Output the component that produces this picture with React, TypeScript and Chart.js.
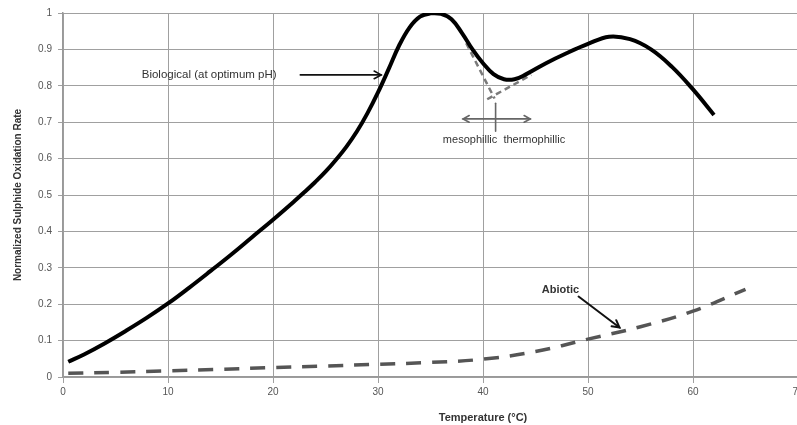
import React, { useEffect, useRef } from "react";
import { Chart, registerables } from "chart.js";

Chart.register(...registerables);

// Biological (at optimum pH)
const bioTemp = [0.5, 2, 4, 6, 8, 10, 12, 14, 16, 18, 20, 22, 23, 24, 25, 26, 27, 28, 29, 30, 31, 32, 33, 34, 35, 36, 37, 38, 39, 40, 41, 42, 43, 44, 46, 48, 50, 52, 54, 56, 58, 60, 62];
const bioRate = [0.042, 0.062, 0.093, 0.127, 0.163, 0.202, 0.245, 0.29, 0.336, 0.384, 0.432, 0.482, 0.508, 0.535, 0.564, 0.597, 0.633, 0.675, 0.725, 0.782, 0.845, 0.91, 0.96, 0.99, 0.999, 0.998, 0.983, 0.945, 0.9, 0.862, 0.832, 0.818, 0.818, 0.83, 0.862, 0.89, 0.915, 0.935, 0.928, 0.9, 0.852, 0.79, 0.72];

// Abiotic
const abioTemp = [0.5, 5, 10, 15, 20, 25, 30, 35, 40, 45, 50, 55, 60, 65];
const abioRate = [0.01, 0.013, 0.017, 0.021, 0.026, 0.03, 0.035, 0.04, 0.049, 0.07, 0.104, 0.138, 0.181, 0.241];

// Extrapolated mesophilic / thermophilic branches
const mesoTemp = [38.4, 41.1];
const mesoRate = [0.917, 0.765];
const thermoTemp = [40.4, 44.6];
const thermoRate = [0.763, 0.83];

// Axis ticks
const xMin = 0;
const xMax = 80;
const xStep = 10;
const yMin = 0;
const yMax = 1;
const yStep = 0.1;

// Annotations (data coordinates)
const bioLabelText = "Biological (at optimum pH)";
const bioLabelPos = [7.5, 0.83];
const bioArrow = [22.6, 0.83, 30.3, 0.83];
const abioLabelText = "Abiotic";
const abioLabelPos = [45.6, 0.239];
const abioArrow = [49.1, 0.221, 53.0, 0.136];
const phaseLabelText = "mesophillic  thermophillic";
const phaseLabelPos = [42.0, 0.651];
const phaseArrow = [38.1, 44.5, 0.709];
const phaseDivider = [41.2, 0.752, 0.675];

const toXY = (xs: number[], ys: number[]) => xs.map((x, i) => ({ x, y: ys[i] }));

function drawArrowHead(ctx: CanvasRenderingContext2D, x1: number, y1: number, x2: number, y2: number, size: number) {
  const a = Math.atan2(y2 - y1, x2 - x1);
  ctx.beginPath();
  ctx.moveTo(x2 - size * Math.cos(a - 0.5), y2 - size * Math.sin(a - 0.5));
  ctx.lineTo(x2, y2);
  ctx.lineTo(x2 - size * Math.cos(a + 0.5), y2 - size * Math.sin(a + 0.5));
  ctx.stroke();
}

const annotationPlugin = {
  id: "annotations",
  afterDatasetsDraw(chart: any) {
    const ctx: CanvasRenderingContext2D = chart.ctx;
    const xs = chart.scales.x;
    const ys = chart.scales.y;
    const px = (v: number) => xs.getPixelForValue(v);
    const py = (v: number) => ys.getPixelForValue(v);
    ctx.save();
    ctx.setLineDash([]);
    ctx.lineCap = "round";

    // Biological label + arrow
    ctx.fillStyle = "#333";
    ctx.font = "11.5px 'Liberation Sans', Arial, sans-serif";
    ctx.textBaseline = "middle";
    ctx.textAlign = "left";
    ctx.fillText(bioLabelText, px(bioLabelPos[0]), py(bioLabelPos[1]));
    ctx.strokeStyle = "#111";
    ctx.lineWidth = 1.6;
    ctx.beginPath();
    ctx.moveTo(px(bioArrow[0]), py(bioArrow[1]));
    ctx.lineTo(px(bioArrow[2]), py(bioArrow[3]));
    ctx.stroke();
    drawArrowHead(ctx, px(bioArrow[0]), py(bioArrow[1]), px(bioArrow[2]), py(bioArrow[3]), 8);

    // Abiotic label + arrow
    ctx.fillStyle = "#333";
    ctx.font = "bold 11px 'Liberation Sans', Arial, sans-serif";
    ctx.fillText(abioLabelText, px(abioLabelPos[0]), py(abioLabelPos[1]));
    ctx.strokeStyle = "#111";
    ctx.lineWidth = 2;
    ctx.beginPath();
    ctx.moveTo(px(abioArrow[0]), py(abioArrow[1]));
    ctx.lineTo(px(abioArrow[2]), py(abioArrow[3]));
    ctx.stroke();
    drawArrowHead(ctx, px(abioArrow[0]), py(abioArrow[1]), px(abioArrow[2]), py(abioArrow[3]), 8);

    // Phase arrows
    ctx.strokeStyle = "#666";
    ctx.lineWidth = 1.6;
    const ay = py(phaseArrow[2]);
    ctx.beginPath();
    ctx.moveTo(px(phaseArrow[0]), ay);
    ctx.lineTo(px(phaseArrow[1]), ay);
    ctx.stroke();
    drawArrowHead(ctx, px(phaseArrow[1]), ay, px(phaseArrow[0]), ay, 7);
    drawArrowHead(ctx, px(phaseArrow[0]), ay, px(phaseArrow[1]), ay, 7);
    ctx.beginPath();
    ctx.moveTo(px(phaseDivider[0]), py(phaseDivider[1]));
    ctx.lineTo(px(phaseDivider[0]), py(phaseDivider[2]));
    ctx.stroke();

    ctx.fillStyle = "#333";
    ctx.font = "11px 'Liberation Sans', Arial, sans-serif";
    ctx.textAlign = "center";
    ctx.fillText(phaseLabelText, px(phaseLabelPos[0]), py(phaseLabelPos[1]));
    ctx.restore();
  },
};

export default function App() {
  const ref = useRef<HTMLCanvasElement | null>(null);

  useEffect(() => {
    if (!ref.current) return;
    const chart = new Chart(ref.current, {
      type: "line",
      data: {
        datasets: [
          {
            label: "Biological",
            data: toXY(bioTemp, bioRate),
            borderColor: "#000",
            borderWidth: 4,
            pointRadius: 0,
            tension: 0.4,
          },
          {
            label: "Abiotic",
            data: toXY(abioTemp, abioRate),
            borderColor: "#555",
            borderWidth: 3.5,
            borderDash: [15, 11],
            pointRadius: 0,
            tension: 0.4,
          },
          {
            label: "Mesophilic",
            data: toXY(mesoTemp, mesoRate),
            borderColor: "#7a7a7a",
            borderWidth: 2.5,
            borderDash: [6, 4],
            pointRadius: 0,
          },
          {
            label: "Thermophilic",
            data: toXY(thermoTemp, thermoRate),
            borderColor: "#7a7a7a",
            borderWidth: 2.5,
            borderDash: [6, 4],
            pointRadius: 0,
          },
        ],
      },
      options: {
        responsive: false,
        animation: false,
        devicePixelRatio: 1,
        layout: { padding: { left: 0, top: 13, right: 17, bottom: 0 } },
        plugins: { legend: { display: false }, tooltip: { enabled: false } },
        scales: {
          x: {
            type: "linear",
            min: xMin,
            max: xMax,
            ticks: { stepSize: xStep, color: "#555", font: { size: 10 }, padding: 3, maxRotation: 0 },
            grid: { color: "#a0a0a0", lineWidth: 1, tickLength: 6 },
            border: { color: "#999", width: 1.5 },
            title: {
              display: true,
              text: "Temperature (°C)",
              color: "#333",
              font: { size: 11, weight: "bold" },
              padding: { top: 4, bottom: 0 },
            },
            afterFit: (s: any) => {
              s.height = 48;
            },
          },
          y: {
            type: "linear",
            min: yMin,
            max: yMax,
            ticks: {
              stepSize: yStep,
              color: "#555",
              font: { size: 10 },
              padding: 6,
              callback: (v: any) => String(Math.round(Number(v) * 10) / 10),
            },
            grid: { color: "#a0a0a0", lineWidth: 1, tickLength: 5 },
            border: { color: "#999", width: 1.5 },
            title: {
              display: true,
              text: "Normalized Sulphide Oxidation Rate",
              color: "#333",
              font: { size: 10, weight: "bold" },
              padding: { top: 12, bottom: 0 },
            },
            afterFit: (s: any) => {
              s.width = 63;
            },
          },
        },
      },
      plugins: [annotationPlugin],
    });
    return () => chart.destroy();
  }, []);

  return (
    <div style={{ position: "absolute", left: 0, top: 0, width: 797, height: 425, overflow: "hidden", background: "#fff" }}>
      <canvas ref={ref} width={920} height={425} style={{ display: "block", width: 920, height: 425 }} />
    </div>
  );
}
